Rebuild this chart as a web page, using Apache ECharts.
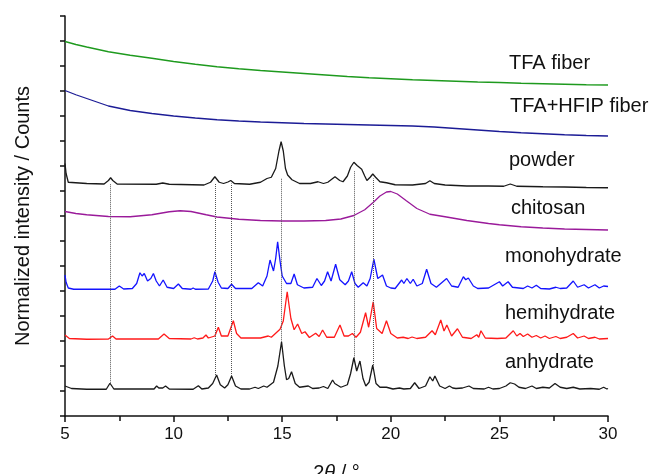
<!DOCTYPE html>
<html>
<head>
<meta charset="utf-8">
<script src="https://cdn.jsdelivr.net/npm/echarts@6/dist/echarts.min.js"></script>
<style>html,body{margin:0;padding:0;background:#fff}#c{width:650px;height:474px}</style>
</head>
<body>
<div id="c"></div>
<script>
// ---- data: [2theta, stacked normalized intensity] ----
var seriesNames = ['TFA fiber', 'TFA+HFIP fiber', 'powder', 'chitosan', 'monohydrate', 'hemihydrate', 'anhydrate'];
var xTicks = [5, 10, 15, 20, 25, 30];

var tfaFiber = [[5,14.98],[5.5,14.86],[6,14.76],[7,14.57],[8,14.43],[9,14.31],[10,14.18],[11,14.07],[12,13.97],[13,13.89],[14,13.82],[15,13.76],[16,13.70],[17,13.64],[18,13.58],[19,13.53],[20,13.49],[21,13.45],[22,13.42],[23,13.39],[24,13.36],[25,13.34],[26,13.31],[27,13.29],[28,13.27],[29,13.25],[30,13.24]];

var tfaHfipFiber = [[5,13.02],[5.5,12.85],[6,12.7],[7,12.4],[8,12.22],[9,12.1],[10,12.0],[11,11.92],[12,11.85],[13,11.8],[14,11.76],[15,11.73],[16,11.7],[17,11.68],[18,11.66],[19,11.64],[20,11.62],[21,11.6],[22,11.56],[23,11.5],[24,11.44],[25,11.38],[26,11.33],[27,11.29],[28,11.25],[29,11.22],[30,11.2]];

var powder = [[5,10.1],[5.05,9.7],[5.15,9.35],[6,9.3],[6.8,9.28],[7.0,9.42],[7.1,9.53],[7.2,9.42],[7.4,9.28],[9.2,9.27],[9.5,9.32],[9.8,9.27],[11.4,9.24],[11.7,9.35],[11.9,9.57],[12.1,9.35],[12.3,9.3],[12.5,9.36],[12.63,9.42],[12.8,9.3],[13.5,9.27],[14.0,9.35],[14.3,9.5],[14.5,9.55],[14.7,9.9],[14.85,10.6],[14.95,10.97],[15.05,10.6],[15.15,9.9],[15.25,9.64],[15.45,9.45],[15.8,9.3],[16.3,9.3],[16.65,9.37],[16.9,9.3],[17.1,9.35],[17.43,9.57],[17.65,9.42],[17.8,9.37],[18.0,9.6],[18.15,9.95],[18.3,10.15],[18.45,10.02],[18.66,9.87],[18.8,9.6],[18.9,9.42],[19.05,9.55],[19.17,9.68],[19.3,9.55],[19.5,9.37],[19.8,9.33],[20.2,9.25],[21.0,9.24],[21.6,9.3],[21.8,9.41],[22.0,9.3],[22.5,9.24],[23.5,9.2],[24.5,9.2],[25.2,9.19],[25.5,9.28],[25.8,9.19],[27,9.17],[28,9.16],[29,9.14],[30,9.13]];

var chitosan = [[5,8.18],[5.5,8.1],[6,8.05],[7,7.98],[8,7.97],[9,8.05],[9.8,8.17],[10.3,8.21],[10.8,8.18],[11.5,8.05],[12,7.96],[13,7.87],[14,7.82],[15,7.8],[16,7.8],[17,7.82],[17.7,7.88],[18.3,8.02],[18.8,8.25],[19.2,8.55],[19.5,8.8],[19.8,8.96],[20.0,8.98],[20.3,8.88],[20.7,8.62],[21.2,8.3],[21.8,8.07],[22.5,7.97],[23.5,7.82],[24.5,7.7],[25,7.65],[26,7.57],[27,7.52],[28,7.48],[29,7.46],[30,7.44]];

var monohydrate = [[5,5.64],[5.05,5.35],[5.15,5.12],[5.4,5.07],[7.3,5.07],[7.5,5.2],[7.7,5.08],[8.1,5.1],[8.3,5.3],[8.45,5.73],[8.55,5.6],[8.65,5.7],[8.8,5.4],[8.95,5.5],[9.07,5.7],[9.2,5.4],[9.35,5.2],[9.52,5.44],[9.7,5.15],[10.0,5.1],[10.22,5.28],[10.4,5.1],[10.8,5.07],[10.9,5.12],[11.0,5.07],[11.6,5.08],[11.8,5.4],[11.9,5.77],[12.05,5.35],[12.2,5.12],[12.5,5.1],[12.67,5.27],[12.85,5.1],[13.6,5.1],[13.9,5.33],[14.1,5.2],[14.3,5.6],[14.44,6.24],[14.6,5.8],[14.7,6.3],[14.79,6.97],[14.9,6.2],[15.0,5.6],[15.05,5.67],[15.2,5.3],[15.4,5.3],[15.55,5.68],[15.7,5.25],[16.0,5.12],[16.4,5.15],[16.6,5.5],[16.8,5.22],[16.95,5.4],[17.09,5.77],[17.25,5.4],[17.46,6.07],[17.65,5.45],[17.9,5.25],[18.05,5.4],[18.2,5.77],[18.35,5.3],[18.5,5.15],[18.73,5.33],[18.9,5.2],[19.05,5.5],[19.22,6.27],[19.4,5.5],[19.62,5.64],[19.8,5.2],[20.0,5.12],[20.2,5.1],[20.5,5.44],[20.6,5.3],[20.74,5.5],[20.9,5.3],[21.03,5.47],[21.2,5.2],[21.45,5.3],[21.65,5.87],[21.85,5.3],[22.1,5.15],[22.57,5.5],[22.8,5.2],[23.1,5.15],[23.34,5.57],[23.45,5.45],[23.57,5.52],[23.8,5.2],[24.0,5.1],[24.5,5.12],[25.0,5.37],[25.15,5.2],[25.4,5.37],[25.6,5.15],[26.1,5.1],[26.3,5.2],[26.5,5.12],[26.7,5.23],[26.9,5.1],[27.3,5.08],[27.6,5.15],[27.8,5.1],[28.1,5.12],[28.4,5.4],[28.6,5.15],[28.9,5.25],[29.1,5.12],[29.4,5.25],[29.6,5.12],[29.8,5.2],[30,5.18]];

var hemihydrate = [[5,3.24],[5.2,3.1],[6,3.07],[7.0,3.08],[7.19,3.2],[7.35,3.08],[9.3,3.08],[9.56,3.28],[9.8,3.1],[10.8,3.08],[10.95,3.13],[11.1,3.08],[11.35,3.12],[11.49,3.24],[11.6,3.12],[11.9,3.2],[12.06,3.55],[12.2,3.2],[12.5,3.2],[12.75,3.81],[12.9,3.3],[13.1,3.12],[14.0,3.12],[14.36,3.2],[14.5,3.15],[14.9,3.47],[15.05,3.8],[15.23,4.97],[15.4,3.9],[15.55,3.45],[15.71,3.68],[15.9,3.3],[16.05,3.37],[16.25,3.14],[16.54,3.31],[16.7,3.18],[16.86,3.44],[17.05,3.15],[17.4,3.15],[17.66,3.64],[17.85,3.2],[18.05,3.2],[18.23,3.3],[18.4,3.15],[18.6,3.35],[18.84,4.13],[18.98,3.55],[19.19,4.57],[19.35,3.5],[19.6,3.3],[19.8,3.81],[20.0,3.3],[20.3,3.12],[20.57,3.15],[20.8,3.1],[20.98,3.16],[21.2,3.1],[21.6,3.15],[21.9,3.41],[22.05,3.25],[22.3,3.84],[22.45,3.4],[22.58,3.64],[22.8,3.2],[23.07,3.49],[23.3,3.15],[23.7,3.1],[23.96,3.25],[24.05,3.15],[24.15,3.41],[24.35,3.12],[24.9,3.1],[25.3,3.12],[25.64,3.41],[25.8,3.2],[25.95,3.3],[26.1,3.18],[26.3,3.28],[26.5,3.15],[26.7,3.22],[26.9,3.12],[27.1,3.2],[27.3,3.1],[27.6,3.18],[27.8,3.1],[28.1,3.15],[28.4,3.3],[28.6,3.12],[28.9,3.2],[29.1,3.1],[29.4,3.15],[29.6,3.08],[30,3.1]];

var anhydrate = [[5,1.2],[5.3,1.1],[6,1.07],[6.9,1.07],[7.07,1.31],[7.25,1.08],[9.1,1.08],[9.22,1.2],[9.32,1.12],[9.4,1.18],[9.5,1.12],[9.63,1.2],[9.8,1.08],[10.9,1.07],[11.14,1.21],[11.3,1.08],[11.6,1.12],[11.8,1.3],[11.98,1.64],[12.15,1.25],[12.35,1.12],[12.5,1.25],[12.67,1.6],[12.85,1.2],[13.1,1.08],[13.5,1.08],[13.75,1.15],[13.9,1.1],[14.15,1.2],[14.3,1.15],[14.45,1.25],[14.6,1.35],[14.8,2.0],[14.97,2.97],[15.1,2.0],[15.2,1.45],[15.3,1.5],[15.43,1.77],[15.6,1.3],[15.8,1.15],[16.2,1.2],[16.4,1.1],[16.7,1.12],[16.9,1.18],[17.1,1.1],[17.32,1.44],[17.42,1.3],[17.5,1.38],[17.7,1.15],[18.0,1.25],[18.15,1.7],[18.3,2.33],[18.43,1.8],[18.58,2.2],[18.72,1.5],[18.85,1.2],[19.0,1.35],[19.17,2.04],[19.32,1.3],[19.5,1.15],[19.8,1.15],[20.1,1.08],[20.4,1.12],[20.6,1.08],[20.9,1.1],[21.1,1.33],[21.3,1.1],[21.6,1.2],[21.8,1.57],[21.93,1.4],[22.03,1.6],[22.25,1.2],[22.5,1.1],[22.7,1.2],[22.85,1.12],[23.0,1.1],[23.3,1.12],[23.6,1.2],[23.8,1.1],[24.3,1.08],[24.5,1.15],[24.7,1.08],[25.0,1.1],[25.3,1.2],[25.5,1.33],[25.7,1.28],[25.9,1.15],[26.2,1.1],[26.5,1.2],[26.7,1.1],[27.0,1.15],[27.3,1.12],[27.56,1.3],[27.8,1.15],[28.1,1.1],[28.4,1.15],[28.7,1.08],[29.2,1.1],[29.6,1.07],[29.8,1.15],[29.95,1.08],[30,1.1]];

// reference peak positions (dotted guide lines)
var dropX = [7.07, 11.93, 12.65, 14.96, 18.3, 19.18];
var dropTop = [9.3, 9.3, 9.3, 9.5, 9.8, 9.5];
var dropBottom = [1.31, 1.64, 1.6, 2.97, 2.33, 2.04];

// ---- presentation ----
var allData = [tfaFiber, tfaHfipFiber, powder, chitosan, monohydrate, hemihydrate, anhydrate];
var colors = ['#1e9a1e', '#1c1c96', '#1a1a1a', '#9a1a9a', '#1414ff', '#ff1a1a', '#1a1a1a'];
var labelLayout = [[509,64],[510,107],[509,161],[511,209],[505,257],[505,314],[505,363]];
var FONT = '"Liberation Sans", Arial, sans-serif';

var series = allData.map(function (d, i) {
  return {
    name: seriesNames[i], type: 'line', data: d, symbol: 'none', z: 3,
    lineStyle: { color: colors[i], width: 1.3 }, animation: false
  };
});
series.push({
  type: 'line', data: [], z: 1, animation: false,
  markLine: {
    silent: true, symbol: ['none', 'none'], label: { show: false },
    lineStyle: { type: 'dotted', color: '#555', width: 1 },
    data: dropX.map(function (x, i) { return [{ coord: [x, dropBottom[i]] }, { coord: [x, dropTop[i]] }]; })
  }
});

var graphic = seriesNames.map(function (n, i) {
  return { type: 'text', left: labelLayout[i][0], top: labelLayout[i][1] - 11,
    style: { text: n, font: '20px ' + FONT, fill: '#111' } };
});

var chart = echarts.init(document.getElementById('c'), null, { renderer: 'canvas' });
chart.setOption({
  animation: false,
  backgroundColor: '#fff',
  grid: { left: 65, right: 42, top: 16, bottom: 58, containLabel: false, outerBoundsMode: 'none' },
  xAxis: {
    type: 'value', min: 5, max: 30, interval: 5,
    name: '2{i|θ} / °', nameLocation: 'middle', nameGap: 47,
    nameTextStyle: { fontSize: 20, fontFamily: FONT, color: '#111', rich: { i: { fontStyle: 'italic', fontSize: 20, fontFamily: FONT } } },
    axisLine: { lineStyle: { color: '#111', width: 1.5 } },
    axisTick: { length: 6, lineStyle: { color: '#111', width: 1.5 } },
    minorTick: { show: true, splitNumber: 2, length: 5, lineStyle: { color: '#111', width: 1.5 } },
    axisLabel: { fontSize: 17, fontFamily: FONT, color: '#111', margin: 10,
      formatter: function (v) { return xTicks.indexOf(v) >= 0 ? String(v) : ''; } },
    splitLine: { show: false }
  },
  yAxis: {
    type: 'value', min: 0, max: 16, interval: 1,
    name: 'Normalized intensity / Counts', nameLocation: 'middle', nameGap: 32,
    nameTextStyle: { fontSize: 20, fontFamily: FONT, color: '#111' },
    axisLine: { show: true, lineStyle: { color: '#111', width: 1.5 } },
    axisTick: { show: true, length: 5, lineStyle: { color: '#111', width: 1.5 } },
    axisLabel: { show: false },
    splitLine: { show: false }
  },
  series: series,
  graphic: graphic
});
</script>
</body>
</html>
